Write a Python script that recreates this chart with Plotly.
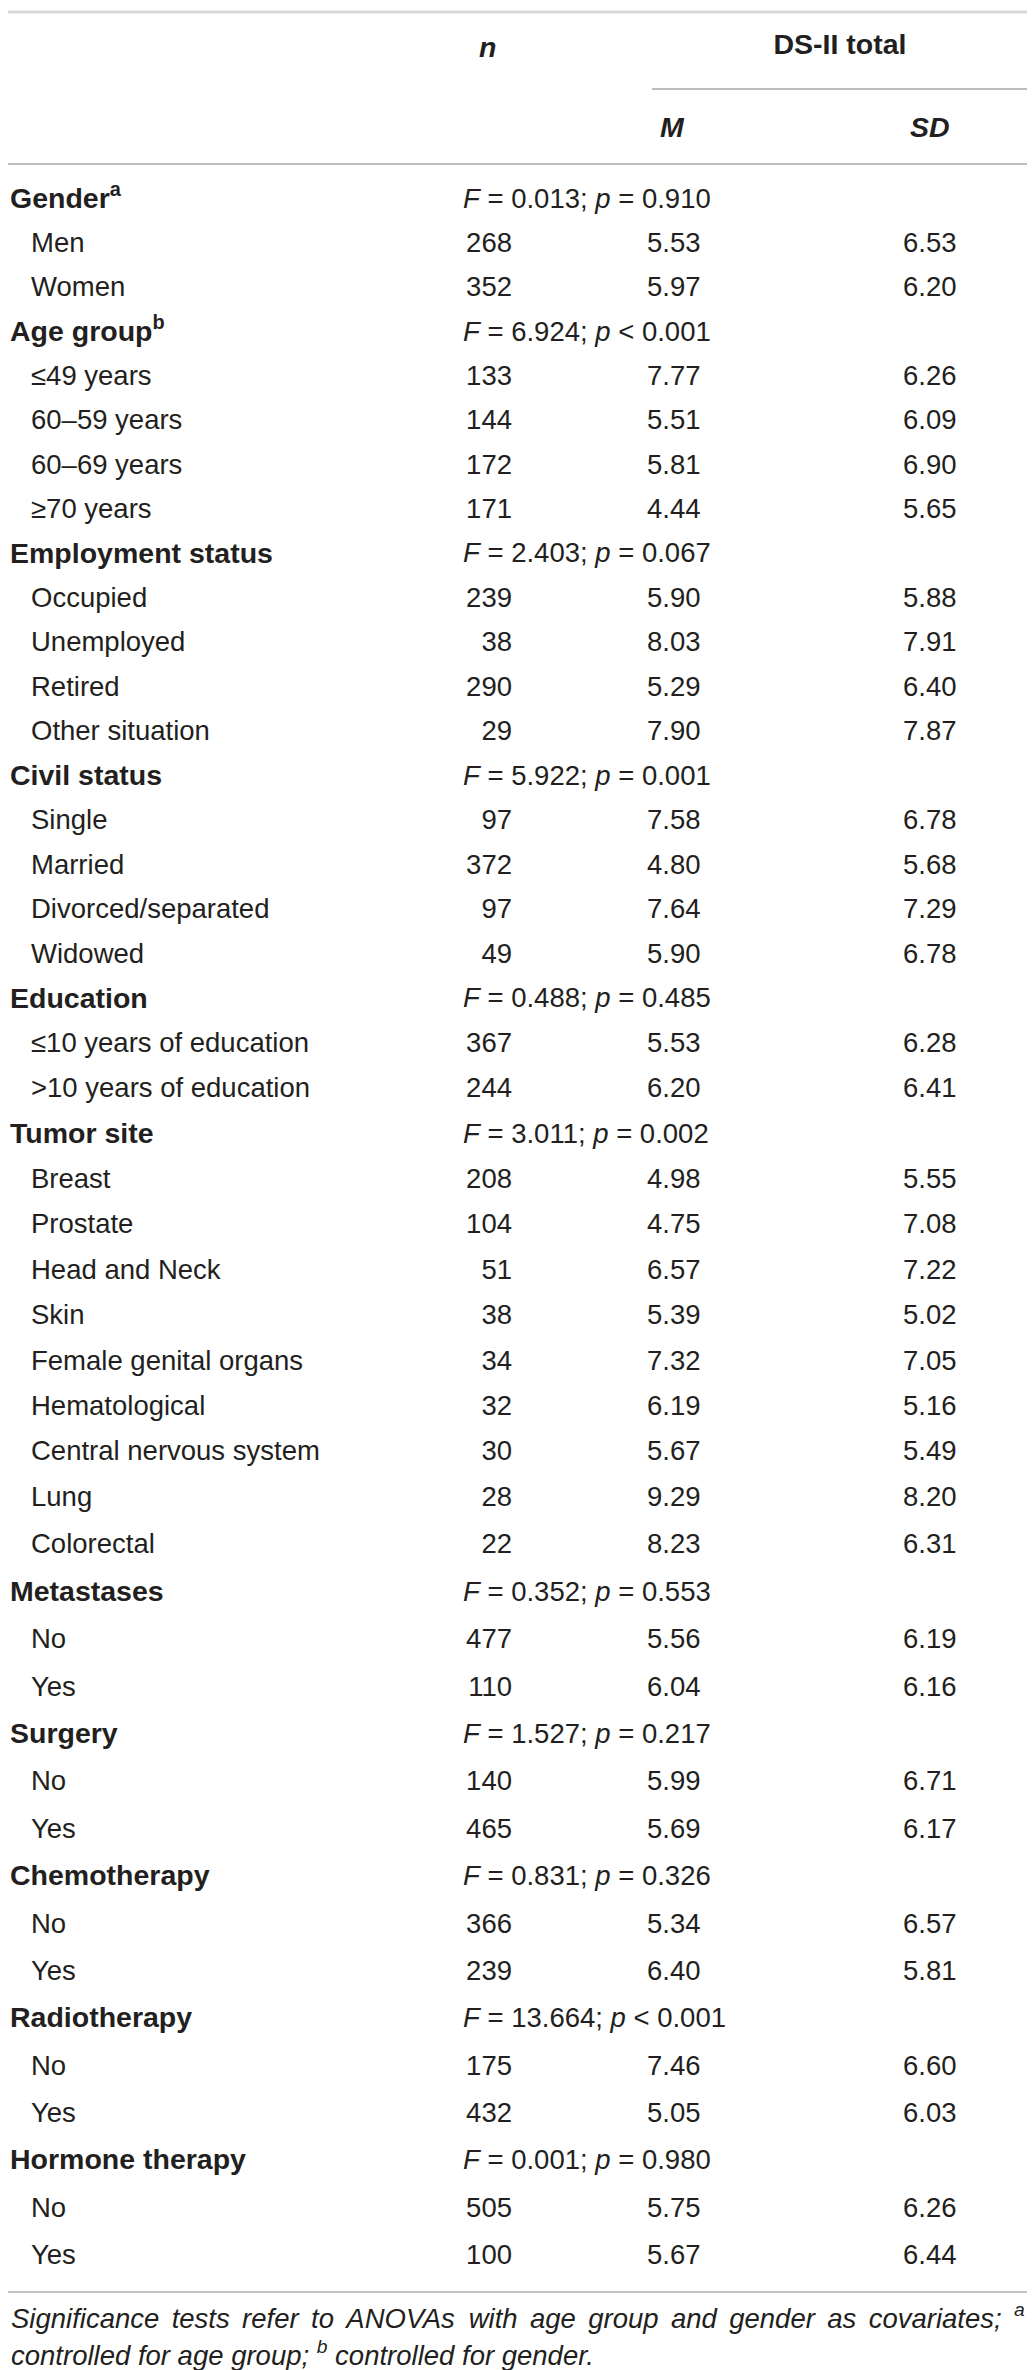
import numpy as np
import plotly.graph_objects as go

# Table data: DS-II total by patient characteristics
group_names = ["Gender", "Age group", "Employment status", "Civil status", "Education",
               "Tumor site", "Metastases", "Surgery", "Chemotherapy", "Radiotherapy",
               "Hormone therapy"]
group_sups = ["a", "b", "", "", "", "", "", "", "", "", ""]
f_values = ["0.013", "6.924", "2.403", "5.922", "0.488", "3.011", "0.352", "1.527",
            "0.831", "13.664", "0.001"]
p_values = ["= 0.910", "< 0.001", "= 0.067", "= 0.001", "= 0.485", "= 0.002", "= 0.553",
            "= 0.217", "= 0.326", "< 0.001", "= 0.980"]

levels = [
    ["Men", "Women"],
    ["≤49 years", "60–59 years", "60–69 years", "≥70 years"],
    ["Occupied", "Unemployed", "Retired", "Other situation"],
    ["Single", "Married", "Divorced/separated", "Widowed"],
    ["≤10 years of education", ">10 years of education"],
    ["Breast", "Prostate", "Head and Neck", "Skin", "Female genital organs",
     "Hematological", "Central nervous system", "Lung", "Colorectal"],
    ["No", "Yes"],
    ["No", "Yes"],
    ["No", "Yes"],
    ["No", "Yes"],
    ["No", "Yes"],
]
n_values = [
    [268, 352],
    [133, 144, 172, 171],
    [239, 38, 290, 29],
    [97, 372, 97, 49],
    [367, 244],
    [208, 104, 51, 38, 34, 32, 30, 28, 22],
    [477, 110],
    [140, 465],
    [366, 239],
    [175, 432],
    [505, 100],
]
m_values = [
    [5.53, 5.97],
    [7.77, 5.51, 5.81, 4.44],
    [5.90, 8.03, 5.29, 7.90],
    [7.58, 4.80, 7.64, 5.90],
    [5.53, 6.20],
    [4.98, 4.75, 6.57, 5.39, 7.32, 6.19, 5.67, 9.29, 8.23],
    [5.56, 6.04],
    [5.99, 5.69],
    [5.34, 6.40],
    [7.46, 5.05],
    [5.75, 5.67],
]
sd_values = [
    [6.53, 6.20],
    [6.26, 6.09, 6.90, 5.65],
    [5.88, 7.91, 6.40, 7.87],
    [6.78, 5.68, 7.29, 6.78],
    [6.28, 6.41],
    [5.55, 7.08, 7.22, 5.02, 7.05, 5.16, 5.49, 8.20, 6.31],
    [6.19, 6.16],
    [6.71, 6.17],
    [6.57, 5.81],
    [6.60, 6.03],
    [6.26, 6.44],
]

footnote_words = ["Significance", "tests", "refer", "to", "ANOVAs", "with", "age", "group",
                  "and", "gender", "as", "covariates;", "<sup>a</sup>"]
footnote2 = "<i>controlled for age group; <sup>b</sup> controlled for gender.</i>"

W, H = 1035, 2370
INK = "#231f20"
FONT = "Liberation Sans"
FS = 27.5
FS_BOLD = 28.5

# build row lists
grp_rows, grp_text, stat_text = [], [], []
lvl_rows, lvl_text, n_text, m_text, sd_text = [], [], [], [], []
r = 0
for g in range(len(group_names)):
    sup = f"<sup>{group_sups[g]}</sup>" if group_sups[g] else ""
    grp_rows.append(r)
    grp_text.append(f"<b>{group_names[g]}{sup}</b>")
    stat_text.append(f"<i>F</i> = {f_values[g]}; <i>p</i> {p_values[g]}")
    r += 1
    for i, lv in enumerate(levels[g]):
        lvl_rows.append(r)
        lvl_text.append(lv)
        n_text.append(str(n_values[g][i]))
        m_text.append(f"{m_values[g][i]:.2f}")
        sd_text.append(f"{sd_values[g][i]:.2f}")
        r += 1

# row centre positions (spacing in the source grows slightly towards the bottom)
anchor_rows = [0, 7, 19, 29, 36, 45]
anchor_y = [193, 503, 1037, 1491, 1823, 2249]


def row_y(rows):
    return np.interp(rows, anchor_rows, anchor_y)


# rough Arial advance widths, used only to spread the justified footnote line
CW = {" ": 278, "A": 667, "N": 722, "O": 778, "V": 667, "S": 667, ";": 278, ".": 278,
      "a": 556, "b": 556, "c": 500, "d": 556, "e": 556, "f": 278, "g": 556, "h": 556,
      "i": 222, "n": 556, "o": 556, "p": 556, "r": 333, "s": 500, "t": 278, "u": 556,
      "v": 500, "w": 722}


def word_w(wd, size):
    if wd.startswith("<sup>"):
        return 16
    return sum(CW.get(c, 556) for c in wd) * size / 1000


fig = go.Figure()


def add_col(x, y, text, pos, size=FS):
    fig.add_trace(go.Scatter(
        x=x if isinstance(x, (list, np.ndarray)) else [x] * len(y), y=y, text=text,
        mode="text", textposition=pos,
        textfont=dict(family=FONT, size=size, color=INK),
        hoverinfo="skip", showlegend=False,
    ))


add_col(2, row_y(grp_rows), grp_text, "middle right", FS_BOLD)
add_col(455, row_y(grp_rows), stat_text, "middle right")
add_col(23, row_y(lvl_rows), lvl_text, "middle right")
add_col(504, row_y(lvl_rows), n_text, "middle left")
add_col(639, row_y(lvl_rows), m_text, "middle right")
add_col(895, row_y(lvl_rows), sd_text, "middle right")

# header
add_col(471, [42], ["<b><i>n</i></b>"], "middle right", FS_BOLD)
add_col(832, [39], ["<b>DS-II total</b>"], "middle center", FS_BOLD)
add_col(652, [122], ["<b><i>M</i></b>"], "middle right", FS_BOLD)
add_col(902, [122], ["<b><i>SD</i></b>"], "middle right", FS_BOLD)

# footer, first line justified across the full width
widths = [word_w(wd, FS) for wd in footnote_words]
gap = (1022 - 3 - sum(widths)) / (len(footnote_words) - 1)
xs, cur = [], 3.0
for wdt in widths:
    xs.append(cur)
    cur += wdt + gap
add_col(xs, [2313] * len(xs), [f"<i>{wd}</i>" for wd in footnote_words], "middle right")
add_col(3, [2350], [footnote2], "middle right")

# rules
fig.add_shape(type="line", x0=0, x1=W, y0=4, y1=4, line=dict(color="#d8d8d8", width=3))
fig.add_shape(type="line", x0=644, x1=W, y0=81, y1=81, line=dict(color="#a8a8a8", width=1.5))
fig.add_shape(type="line", x0=0, x1=W, y0=156, y1=156, line=dict(color="#a8a8a8", width=1.5))
fig.add_shape(type="line", x0=0, x1=W, y0=2284, y1=2284, line=dict(color="#b0b0b0", width=1.5))

fig.update_layout(
    width=W, height=H,
    margin=dict(l=0, r=0, t=0, b=0),
    paper_bgcolor="white", plot_bgcolor="white",
    xaxis=dict(range=[0, W], visible=False, fixedrange=True),
    yaxis=dict(range=[H, 0], visible=False, fixedrange=True),
)

fig.write_html("out.html")
